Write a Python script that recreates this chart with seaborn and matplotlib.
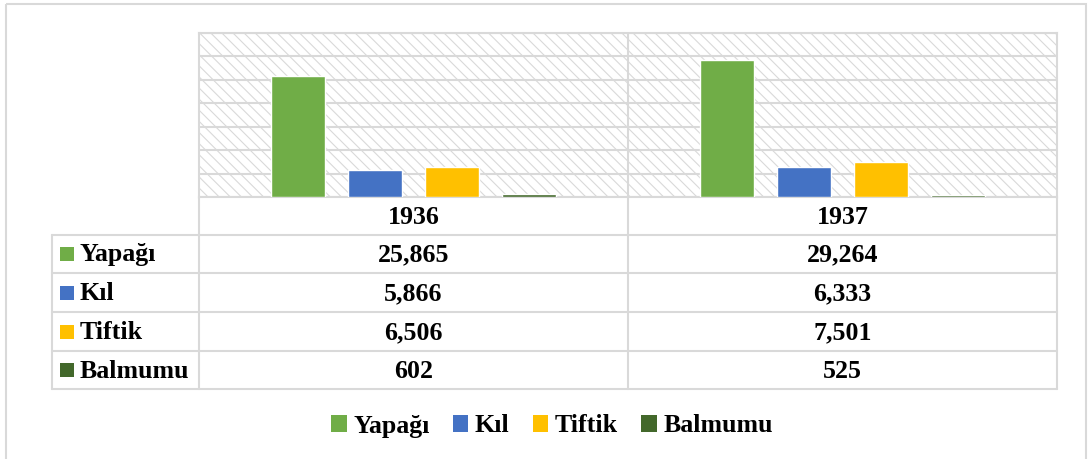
import pandas as pd
import matplotlib.pyplot as plt
import seaborn as sns
from matplotlib.patches import Rectangle, Patch

sns.set_style('white')
plt.rcParams['font.family'] = ['Liberation Serif', 'DejaVu Serif']
plt.rcParams['font.weight'] = 'bold'
plt.rcParams['text.color'] = 'black'
plt.rcParams['hatch.linewidth'] = 0.8

# veriler
years = ['1936', '1937']
series = ['Yapağı', 'Kıl', 'Tiftik', 'Balmumu']
yapagi = [25865, 29264]
kil = [5866, 6333]
tiftik = [6506, 7501]
balmumu = [602, 525]
values = [yapagi, kil, tiftik, balmumu]
colors = ['#70ad47', '#4472c4', '#ffc000', '#43682b']

rows = []
for name, vals in zip(series, values):
    for yr, v in zip(years, vals):
        rows.append({'Yıl': yr, 'Seri': name, 'Değer': v})
df = pd.DataFrame(rows)

W, H = 1088, 459
fig = plt.figure(figsize=(W / 100, H / 100), dpi=100)
grid_c = '#d9d9d9'
fs = 18.6

# plot alanı
x0, x1, y0, y1 = 199, 1057, 33, 197
ax = fig.add_axes([x0 / W, 1 - y1 / H, (x1 - x0) / W, (y1 - y0) / H])
ax.add_patch(Rectangle((0, 0), 1, 1, transform=ax.transAxes, facecolor='white',
                       edgecolor='#d9d9d9', hatch='\\' * 3, lw=0, zorder=0))
sns.barplot(data=df, x='Yıl', y='Değer', hue='Seri', order=years, hue_order=series,
            palette=colors, width=0.718, gap=0.3, ax=ax, legend=False,
            saturation=1, zorder=3)
ax.set_ylim(0, 35000)
ax.set_xlim(-0.5, 1.5)
ax.set_yticks(range(0, 35001, 5000))
ax.yaxis.grid(True, color=grid_c, lw=1.5, zorder=1)
ax.set_axisbelow(True)
ax.axvline(0.5, color=grid_c, lw=1.5, zorder=1)
ax.set_xticks([])
ax.tick_params(left=False, labelleft=False)
ax.set_xlabel('')
ax.set_ylabel('')
for s in ax.spines.values():
    s.set_color(grid_c)
    s.set_linewidth(1.5)

# tablo (piksel koordinatlarında)
ov = fig.add_axes([0, 0, 1, 1], zorder=-1)
ov.set_xlim(0, W)
ov.set_ylim(H, 0)
ov.axis('off')
ov.add_patch(Rectangle((6, 4), 1080, 460, facecolor='none', edgecolor=grid_c, lw=1.5))

tx = 52
row_y = [235, 273, 312, 351, 389]
col_x = [x0, 628, x1]
lw = 1.5
ov.plot([x0, x0], [y1, row_y[-1]], color=grid_c, lw=lw)
ov.plot([628, 628], [y1, row_y[-1]], color=grid_c, lw=lw)
ov.plot([x1, x1], [y1, row_y[-1]], color=grid_c, lw=lw)
ov.plot([tx, tx], [row_y[0], row_y[-1]], color=grid_c, lw=lw)
for yy in row_y:
    ov.plot([tx, x1], [yy, yy], color=grid_c, lw=lw)
for i, yr in enumerate(years):
    ov.text((col_x[i] + col_x[i + 1]) / 2, (y1 + row_y[0]) / 2 + 1, yr,
            ha='center', va='center', fontsize=fs, fontweight='bold')
for r, (name, vals, c) in enumerate(zip(series, values, colors)):
    cy = (row_y[r] + row_y[r + 1]) / 2 + 1
    ov.add_patch(Rectangle((60, cy - 8), 14, 14, facecolor=c, lw=0))
    ov.text(80, cy, name, ha='left', va='center', fontsize=fs, fontweight='bold')
    for i, v in enumerate(vals):
        ov.text((col_x[i] + col_x[i + 1]) / 2, cy, f'{v:,}',
                ha='center', va='center', fontsize=fs, fontweight='bold')

# alt açıklama
handles = [Patch(facecolor=c, lw=0, label=n) for n, c in zip(series, colors)]
fig.legend(handles=handles, loc='center', bbox_to_anchor=(552 / W, 1 - 426 / H),
           ncol=4, frameon=False, handlelength=0.6, handleheight=0.6,
           handletextpad=0.25, columnspacing=0.9, labelcolor='black',
           prop={'weight': 'bold', 'size': fs})

fig.savefig('out.png', dpi=100)
